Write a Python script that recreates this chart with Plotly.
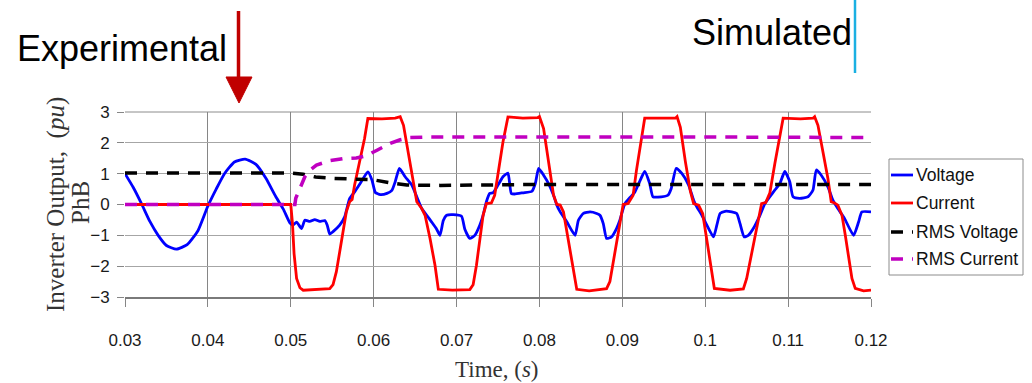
import plotly.graph_objects as go

# ---- measured waveforms (time in s, per-unit values) ----
v_time = [0.0300, 0.0310, 0.0320, 0.0330, 0.0340, 0.0350, 0.0362, 0.0375, 0.0388, 0.0400,
          0.0410, 0.0420, 0.0432, 0.0445, 0.0458, 0.0470, 0.0482, 0.0491, 0.0499, 0.0503,
          0.0507, 0.0513, 0.0517, 0.0523, 0.0529, 0.0535, 0.0541, 0.0544, 0.0547, 0.0551,
          0.0559, 0.0565, 0.0571, 0.0577, 0.0585, 0.0593, 0.0598, 0.0602, 0.0608, 0.0616,
          0.0622, 0.0626, 0.0631, 0.0638, 0.0646, 0.0652, 0.0658, 0.0664, 0.0670, 0.0676,
          0.0680, 0.0684, 0.0688, 0.0696, 0.0706, 0.0710, 0.0716, 0.0722, 0.0728, 0.0732,
          0.0736, 0.0740, 0.0744, 0.0750, 0.0756, 0.0762, 0.0766, 0.0770, 0.0780, 0.0791,
          0.0795, 0.0799, 0.0805, 0.0811, 0.0817, 0.0821, 0.0825, 0.0833, 0.0843, 0.0847,
          0.0853, 0.0861, 0.0869, 0.0873, 0.0877, 0.0881, 0.0887, 0.0893, 0.0897, 0.0903,
          0.0909, 0.0915, 0.0921, 0.0927, 0.0933, 0.0937, 0.0947, 0.0955, 0.0959, 0.0965,
          0.0972, 0.0980, 0.0986, 0.0990, 0.0996, 0.1002, 0.1010, 0.1014, 0.1018, 0.1024,
          0.1032, 0.1038, 0.1042, 0.1047, 0.1052, 0.1058, 0.1066, 0.1072, 0.1078, 0.1084,
          0.1090, 0.1096, 0.1102, 0.1106, 0.1114, 0.1124, 0.1130, 0.1134, 0.1140, 0.1148,
          0.1154, 0.1160, 0.1168, 0.1179, 0.1185, 0.1189, 0.1200]
voltage = [1.00, 0.55, 0.02, -0.55, -1.00, -1.33, -1.45, -1.30, -0.85, -0.05,
           0.50, 1.00, 1.38, 1.47, 1.30, 0.85, 0.25, -0.15, -0.60, -0.66,
           -0.57, -0.78, -0.51, -0.55, -0.49, -0.55, -0.52, -0.67, -0.96, -0.88,
           -0.67, -0.40, 0.19, 0.41, 0.74, 1.06, 0.79, 0.39, 0.32, 0.36,
           0.46, 0.74, 1.17, 0.90, 0.63, 0.25, -0.13, -0.35, -0.57, -0.80,
           -1.00, -0.52, -0.35, -0.33, -0.38, -0.80, -1.10, -1.00, -0.67, -0.35,
           0.09, 0.36, 0.38, 0.63, 0.90, 1.02, 0.36, 0.34, 0.38, 0.43,
           0.68, 1.17, 0.95, 0.68, 0.30, -0.02, -0.24, -0.56, -1.00, -0.51,
           -0.29, -0.24, -0.29, -0.35, -0.62, -1.10, -1.05, -0.78, -0.51, 0.02,
           0.22, 0.40, 0.75, 1.07, 0.68, 0.25, 0.25, 0.30, 0.52, 1.17,
           1.00, 0.63, 0.14, -0.08, -0.35, -0.67, -1.05, -0.67, -0.29, -0.22,
           -0.24, -0.29, -0.62, -1.05, -1.00, -0.78, -0.35, 0.03, 0.25, 0.47,
           0.68, 1.07, 0.74, 0.25, 0.20, 0.25, 0.47, 1.12, 0.95, 0.57,
           0.14, -0.13, -0.45, -1.00, -0.57, -0.24, -0.24]

i_time = [0.0300, 0.0500, 0.0502, 0.0504, 0.0507, 0.0511, 0.0515, 0.0530, 0.0547, 0.0551,
          0.0555, 0.0559, 0.0563, 0.0567, 0.0571, 0.0574, 0.0577, 0.0583, 0.0589, 0.0593,
          0.0610, 0.0626, 0.0632, 0.0636, 0.0642, 0.0648, 0.0652, 0.0658, 0.0662, 0.0668,
          0.0674, 0.0678, 0.0695, 0.0716, 0.0720, 0.0724, 0.0728, 0.0732, 0.0736, 0.0742,
          0.0746, 0.0750, 0.0756, 0.0762, 0.0780, 0.0798, 0.0800, 0.0805, 0.0811, 0.0817,
          0.0821, 0.0825, 0.0829, 0.0835, 0.0841, 0.0845, 0.0860, 0.0877, 0.0881, 0.0885,
          0.0890, 0.0895, 0.0901, 0.0907, 0.0913, 0.0917, 0.0921, 0.0927, 0.0945, 0.0964,
          0.0966, 0.0970, 0.0976, 0.0982, 0.0986, 0.0992, 0.0997, 0.1002, 0.1008, 0.1011,
          0.1030, 0.1046, 0.1050, 0.1056, 0.1062, 0.1068, 0.1073, 0.1078, 0.1084, 0.1090,
          0.1094, 0.1115, 0.1130, 0.1132, 0.1136, 0.1142, 0.1148, 0.1152, 0.1156, 0.1160,
          0.1165, 0.1169, 0.1173, 0.1177, 0.1181, 0.1191, 0.1200]
current = [0.00, 0.00, -0.60, -1.60, -2.40, -2.70, -2.78, -2.76, -2.73, -2.60,
           -2.18, -1.54, -0.89, -0.24, 0.09, 0.16, 0.63, 1.38, 2.14, 2.79,
           2.78, 2.80, 2.85, 2.57, 1.60, 0.63, 0.09, -0.13, -0.35, -1.10,
           -1.97, -2.75, -2.78, -2.76, -2.60, -1.97, -1.10, -0.35, 0.03, 0.05,
           0.30, 1.06, 2.03, 2.84, 2.80, 2.82, 2.85, 2.46, 1.38, 0.30,
           0.00, -0.02, -0.24, -1.21, -2.18, -2.75, -2.80, -2.76, -2.73, -2.50,
           -1.75, -0.89, 0.00, 0.03, 0.30, 1.10, 1.75, 2.80, 2.80, 2.80,
           2.85, 2.50, 1.40, 0.44, 0.03, -0.02, -0.30, -1.20, -2.15, -2.72,
           -2.78, -2.74, -2.40, -1.55, -0.70, 0.03, 0.06, 0.38, 1.33, 2.20,
           2.80, 2.78, 2.80, 2.85, 2.57, 1.71, 0.84, 0.09, 0.05, -0.02,
           -0.35, -1.00, -1.75, -2.40, -2.72, -2.80, -2.78]

rmsv_time = [0.0300, 0.0500, 0.0515, 0.0530, 0.0550, 0.0580, 0.0600, 0.0620, 0.0640, 0.0680,
             0.0750, 0.0800, 0.1200]
rms_voltage = [1.02, 1.02, 0.98, 0.89, 0.85, 0.83, 0.80, 0.70, 0.63, 0.62,
               0.64, 0.65, 0.65]

rmsi_time = [0.0300, 0.0505, 0.0506, 0.0511, 0.0517, 0.0523, 0.0531, 0.0547, 0.0563, 0.0579,
             0.0591, 0.0604, 0.0620, 0.0632, 0.0644, 0.0668, 0.0800, 0.1000, 0.1200]
rms_current = [0.00, 0.00, 0.20, 0.52, 0.90, 1.11, 1.28, 1.42, 1.49, 1.51,
               1.58, 1.76, 1.98, 2.10, 2.17, 2.19, 2.20, 2.19, 2.17]

x_ticks = [0.03, 0.04, 0.05, 0.06, 0.07, 0.08, 0.09, 0.10, 0.11, 0.12]
x_tick_text = ["0.03", "0.04", "0.05", "0.06", "0.07", "0.08", "0.09", "0.1", "0.11", "0.12"]
y_ticks = [-3, -2, -1, 0, 1, 2, 3]

series_names = ["Voltage", "Current", "RMS Voltage", "RMS Current"]
series_colors = ["#0000FF", "#FF0000", "#000000", "#C000C0"]

# ---- page geometry (pixels) ----
W, H = 1032, 383
L, R, T, B = 125, 871, 112, 297


def px(x):
    return (x - L) / (R - L)


def py(y):
    return (B - y) / (B - T)


SANS = "Liberation Sans, Arial, sans-serif"
SERIF = "Liberation Serif, Times New Roman, serif"
DASH = "12px,9px"

fig = go.Figure()
fig.add_trace(go.Scatter(x=v_time, y=voltage, mode="lines", name=series_names[0],
                         line=dict(color=series_colors[0], width=2.8,
                                   shape="spline", smoothing=0.5)))
fig.add_trace(go.Scatter(x=i_time, y=current, mode="lines", name=series_names[1],
                         line=dict(color=series_colors[1], width=2.8)))
fig.add_trace(go.Scatter(x=rmsv_time, y=rms_voltage, mode="lines", name=series_names[2],
                         line=dict(color=series_colors[2], width=3.5, dash=DASH)))
fig.add_trace(go.Scatter(x=rmsi_time, y=rms_current, mode="lines", name=series_names[3],
                         line=dict(color=series_colors[3], width=3.5, dash=DASH)))

shapes = []
annotations = []

# legend drawn as a framed box with line samples
shapes.append(dict(type="rect", xref="paper", yref="paper",
                   x0=px(889), x1=px(1023), y0=py(275), y1=py(159),
                   line=dict(color="#8c8c8c", width=1), fillcolor="white", layer="above"))
legend_rows = [175, 203, 232, 259]
for name, color, row, dashed in zip(series_names, series_colors, legend_rows,
                                    [False, False, True, True]):
    shapes.append(dict(type="line", xref="paper", yref="paper",
                       x0=px(891), x1=px(913), y0=py(row), y1=py(row),
                       line=dict(color=color, width=3.5 if dashed else 2.8,
                                 dash=DASH if dashed else "solid"),
                       layer="above"))
    annotations.append(dict(text=name, xref="paper", yref="paper",
                            x=px(914), y=py(row), xanchor="left", yanchor="middle",
                            showarrow=False, font=dict(family=SANS, size=17.5, color="#111111")))

# axis titles
annotations.append(dict(text="Inverter Output,  (<i>pu</i>)", xref="paper", yref="paper",
                        x=px(56), y=py(205), textangle=-90, xanchor="center", yanchor="middle",
                        showarrow=False, font=dict(family=SERIF, size=25, color="#333333")))
annotations.append(dict(text="PhB", xref="paper", yref="paper",
                        x=px(80), y=py(203), textangle=-90, xanchor="center", yanchor="middle",
                        showarrow=False, font=dict(family=SERIF, size=25, color="#333333")))
annotations.append(dict(text="Time, (<i>s</i>)", xref="paper", yref="paper",
                        x=px(497), y=py(369), xanchor="center", yanchor="middle",
                        showarrow=False, font=dict(family=SERIF, size=23, color="#333333")))

# headings above the plot
annotations.append(dict(text="Experimental", xref="paper", yref="paper",
                        x=px(15), y=py(48), xanchor="left", yanchor="middle",
                        showarrow=False, font=dict(family=SANS, size=36, color="#000000")))
annotations.append(dict(text="Simulated", xref="paper", yref="paper",
                        x=px(690), y=py(32), xanchor="left", yanchor="middle",
                        showarrow=False, font=dict(family=SANS, size=36, color="#000000")))

# red pointer arrow
shapes.append(dict(type="line", xref="paper", yref="paper",
                   x0=px(238.5), x1=px(238.5), y0=py(11), y1=py(80),
                   line=dict(color="#C00000", width=3.5), layer="above"))
tri = "M {:.5f},{:.5f} L {:.5f},{:.5f} L {:.5f},{:.5f} Z".format(
    px(226), py(77), px(252), py(77), px(239), py(103))
shapes.append(dict(type="path", xref="paper", yref="paper", path=tri,
                   fillcolor="#C00000", line=dict(color="#C00000", width=1), layer="above"))

# cyan marker bar next to "Simulated"
shapes.append(dict(type="line", xref="paper", yref="paper",
                   x0=px(855), x1=px(855), y0=py(0), y1=py(73),
                   line=dict(color="#1AB0E2", width=2.5), layer="above"))

# top frame line of the plot area
shapes.append(dict(type="line", xref="paper", yref="paper", x0=0, x1=1, y0=1, y1=1,
                   line=dict(color="#8c8c8c", width=1), layer="below"))

fig.update_layout(
    width=W, height=H,
    margin=dict(l=L, r=W - R, t=T, b=H - B, pad=0),
    paper_bgcolor="white", plot_bgcolor="white",
    showlegend=False,
    shapes=shapes, annotations=annotations,
    xaxis=dict(range=[0.03, 0.12], tickvals=x_ticks, ticktext=x_tick_text,
               showgrid=True, gridcolor="#868686", gridwidth=1,
               ticks="outside", ticklen=8, tickcolor="#868686", tickwidth=1,
               showline=True, linecolor="#7a7a7a", linewidth=2, zeroline=False,
               tickfont=dict(family=SANS, size=17, color="#1a1a1a"),
               ticklabelstandoff=19),
    yaxis=dict(range=[-3, 3], tickvals=y_ticks,
               showgrid=True, gridcolor="#a6a6a6", gridwidth=1,
               ticks="outside", ticklen=7, tickcolor="#868686", tickwidth=1,
               showline=False, zeroline=False,
               tickfont=dict(family=SANS, size=17, color="#1a1a1a"),
               ticklabelstandoff=4),
)

fig.write_html("out.html")
